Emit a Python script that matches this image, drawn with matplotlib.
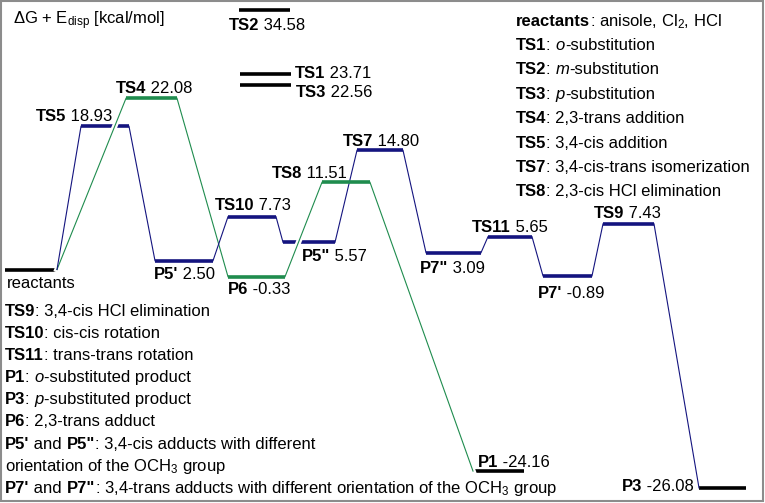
import matplotlib
matplotlib.use("Agg")
import matplotlib.pyplot as plt
from matplotlib import transforms, patches
import matplotlib.patheffects as pe

plt.rcParams['font.family'] = ['Liberation Sans', 'DejaVu Sans']
plt.rcParams['mathtext.fontset'] = 'custom'
plt.rcParams['mathtext.rm'] = 'Liberation Sans'
plt.rcParams['mathtext.it'] = 'Liberation Sans:italic'
plt.rcParams['mathtext.bf'] = 'Liberation Sans:bold'

# ---- data ----
states = ['reactants', 'TS5', 'TS4', 'TS2', 'TS1', 'TS3', "P5'", 'P6', 'TS10',
          'P5"', 'TS8', 'TS7', 'P1', 'P7"', 'TS11', "P7'", 'TS9', 'P3']
energies = [0.00, 18.93, 22.08, 34.58, 23.71, 22.56, 2.50, -0.33, 7.73,
            5.57, 11.51, 14.80, -24.16, 3.09, 5.65, -0.89, 7.43, -26.08]
# heights at which the levels are drawn in the (schematic) diagram
drawn = [0.0, 17.9, 21.4, 32.4, 24.4, 23.1, 1.1, -0.9, 6.6,
         3.4, 10.9, 14.9, -25.2, 2.1, 4.1, -0.8, 5.7, -27.3]

blue_path = ['reactants', 'TS5', "P5'", 'TS10', 'P5"', 'TS7', 'P7"', 'TS11', "P7'", 'TS9', 'P3']
green_path = ['reactants', 'TS4', 'P6', 'TS8', 'P1']

legend_right = [
    [("reactants", "b"), (": anisole, Cl$_2$, HCl", "r")],
    [("TS1", "b"), (": ", "r"), ("o", "i"), ("-substitution", "r")],
    [("TS2", "b"), (": ", "r"), ("m", "i"), ("-substitution", "r")],
    [("TS3", "b"), (": ", "r"), ("p", "i"), ("-substitution", "r")],
    [("TS4", "b"), (": 2,3-trans addition", "r")],
    [("TS5", "b"), (": 3,4-cis addition", "r")],
    [("TS7", "b"), (": 3,4-cis-trans isomerization", "r")],
    [("TS8", "b"), (": 2,3-cis HCl elimination", "r")],
]
legend_left = [
    [("TS9", "b"), (": 3,4-cis HCl elimination", "r")],
    [("TS10", "b"), (": cis-cis rotation", "r")],
    [("TS11", "b"), (": trans-trans rotation", "r")],
    [("P1", "b"), (": ", "r"), ("o", "i"), ("-substituted product", "r")],
    [("P3", "b"), (": ", "r"), ("p", "i"), ("-substituted product", "r")],
    [("P6", "b"), (": 2,3-trans adduct", "r")],
    [("P5'", "b"), (" and ", "r"), ('P5"', "b"), (": 3,4-cis adducts with different", "r")],
    [("orientation of the OCH$_3$ group", "r")],
    [("P7'", "b"), (" and ", "r"), ('P7"', "b"),
     (": 3,4-trans adducts with different orientation of the OCH$_3$ group", "r")],
]

# ---- layout (pixels) ----
W, H = 765, 503
span = {'reactants': (5, 57), 'TS5': (81, 129), 'TS4': (126, 177), 'TS2': (239, 290),
        'TS1': (240, 291), 'TS3': (240, 291), "P5'": (155, 213), 'P6': (228, 285),
        'TS10': (228, 276), 'P5"': (283, 335), 'TS8': (322, 370), 'TS7': (357, 403),
        'P1': (473, 524), 'P7"': (426, 481), 'TS11': (488, 532), "P7'": (543, 592),
        'TS9': (603, 654), 'P3': (699, 746)}
label_at = {'TS2': (229, 30), 'TS1': (295, 78), 'TS3': (296, 97), 'TS4': (116, 93),
            'TS5': (36, 121), 'TS7': (343, 146), 'TS8': (272, 178), 'TS10': (215, 210),
            "P5'": (154, 279), 'P6': (228, 294), 'P5"': (302, 261), 'TS11': (472, 232),
            'P7"': (420, 273), "P7'": (538, 298), 'TS9': (594, 218), 'P1': (478, 467),
            'P3': (622, 491)}

BLUE = '#14147f'
GREEN = '#1f8c4e'
FS = 12

fig = plt.figure(figsize=(7.65, 5.03), dpi=100)
ax = fig.add_axes([0, 0, 1, 1])
ax.set_xlim(0, W)
ax.set_ylim((269.5 - H) / 8, 269.5 / 8)
ax.axis('off')

pix = transforms.Affine2D().scale(1, -1).translate(0, H)

E = dict(zip(states, energies))
Y = dict(zip(states, drawn))


def color_of(s):
    if s in green_path[1:-1]:
        return GREEN
    if s in blue_path[1:-1]:
        return BLUE
    return 'black'


# levels
for s in states:
    x0, x1 = span[s]
    z = 5 if color_of(s) == GREEN else 2
    ax.plot([x0, x1], [Y[s], Y[s]], color=color_of(s), lw=2.6, solid_capstyle='butt', zorder=z)

# connectors
for path, col, z in [(blue_path, BLUE, 4), (green_path, GREEN, 3)]:
    for a, b in zip(path[:-1], path[1:]):
        eff = [pe.Stroke(linewidth=4, foreground='white'), pe.Normal()] if col == GREEN else None
        ax.plot([span[a][1], span[b][0]], [Y[a], Y[b]], color=col, lw=0.8,
                zorder=z, path_effects=eff)


def rich(x, y, parts):
    style = {"b": dict(fontweight='bold'), "r": dict(), "i": dict(fontstyle='italic')}
    t = ax.text(x, y, parts[0][0], transform=pix, fontsize=FS, va='baseline',
                ha='left', **style[parts[0][1]])
    for s, st in parts[1:]:
        t = ax.annotate(s, xy=(1, y), xycoords=(t, pix), fontsize=FS, va='baseline',
                        ha='left', **style[st])
    return t


for s, (x, y) in label_at.items():
    rich(x, y, [(s, "b"), (" %.2f" % E[s], "r")])

rich(7, 288, [("reactants", "r")])
rich(13, 24, [("ΔG + E$_\\mathrm{disp}$ [kcal/mol]", "r")])

for i, parts in enumerate(legend_right):
    rich(516, [26, 50, 74.5, 99, 123, 148, 172, 196][i], parts)
for i, parts in enumerate(legend_left):
    rich(5, 316 + 22.1 * i, parts)

ax.add_patch(patches.Rectangle((1, 1), 762, 500, transform=pix, fill=False,
                               ec='#8c8c8c', lw=1.5))

fig.savefig('out.png', dpi=100)
